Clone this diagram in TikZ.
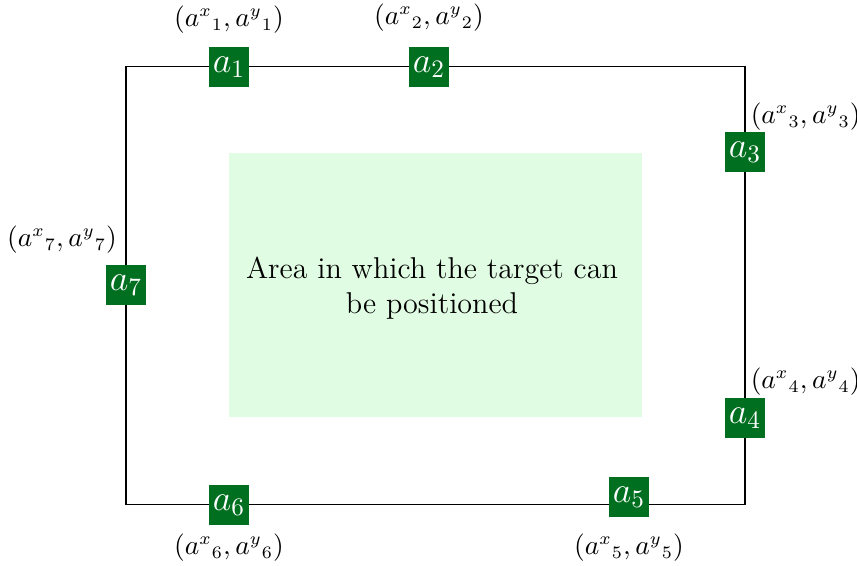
\documentclass[tikz,border=0pt]{standalone}
\usepackage{amsmath}
\usepackage{tikz}

\definecolor{anchorgreen}{RGB}{0,112,32}
\definecolor{areagreen}{RGB}{224,252,226}

\begin{document}
\begin{tikzpicture}[
  x=0.014cm, y=-0.014cm,
  anc/.style = {fill=anchorgreen, text=white, minimum width=0.56cm,
                minimum height=0.57cm, inner sep=0pt, font=\Large},
  coord/.style = {font=\fontsize{10.5}{13}\selectfont, inner sep=0.5pt}
]
  \useasboundingbox (0,0) rectangle (857,566);

  % Target area and frame
  \fill[areagreen] (229,153) rectangle (642,417);
  \node[align=center, font=\large] (area) at (432,288)
    {Area in which the target can\\be positioned};
  \draw[thin] (126,67) rectangle (745,505);

  % Anchors
  \node[anc] (a1) at (229,67)  {$a_1$};
  \node[anc] (a2) at (429,67)  {$a_2$};
  \node[anc] (a3) at (745,152) {$a_3$};
  \node[anc] (a4) at (745,418) {$a_4$};
  \node[anc] (a5) at (629,497) {$a_5$};
  \node[anc] (a6) at (229,505) {$a_6$};
  \node[anc] (a7) at (126,285) {$a_7$};

  % Anchor coordinates
  \node[coord] (c1) at (229,20)  {$(a^{x}{}_{1}, a^{y}{}_{1})$};
  \node[coord] (c2) at (429,18)  {$(a^{x}{}_{2}, a^{y}{}_{2})$};
  \node[coord, anchor=west] (c3) at (749,117) {$(a^{x}{}_{3}, a^{y}{}_{3})$};
  \node[coord, anchor=west] (c4) at (749,382) {$(a^{x}{}_{4}, a^{y}{}_{4})$};
  \node[coord] (c5) at (629,548) {$(a^{x}{}_{5}, a^{y}{}_{5})$};
  \node[coord] (c6) at (229,548) {$(a^{x}{}_{6}, a^{y}{}_{6})$};
  \node[coord] (c7) at (62,240)  {$(a^{x}{}_{7}, a^{y}{}_{7})$};
\end{tikzpicture}
\end{document}
